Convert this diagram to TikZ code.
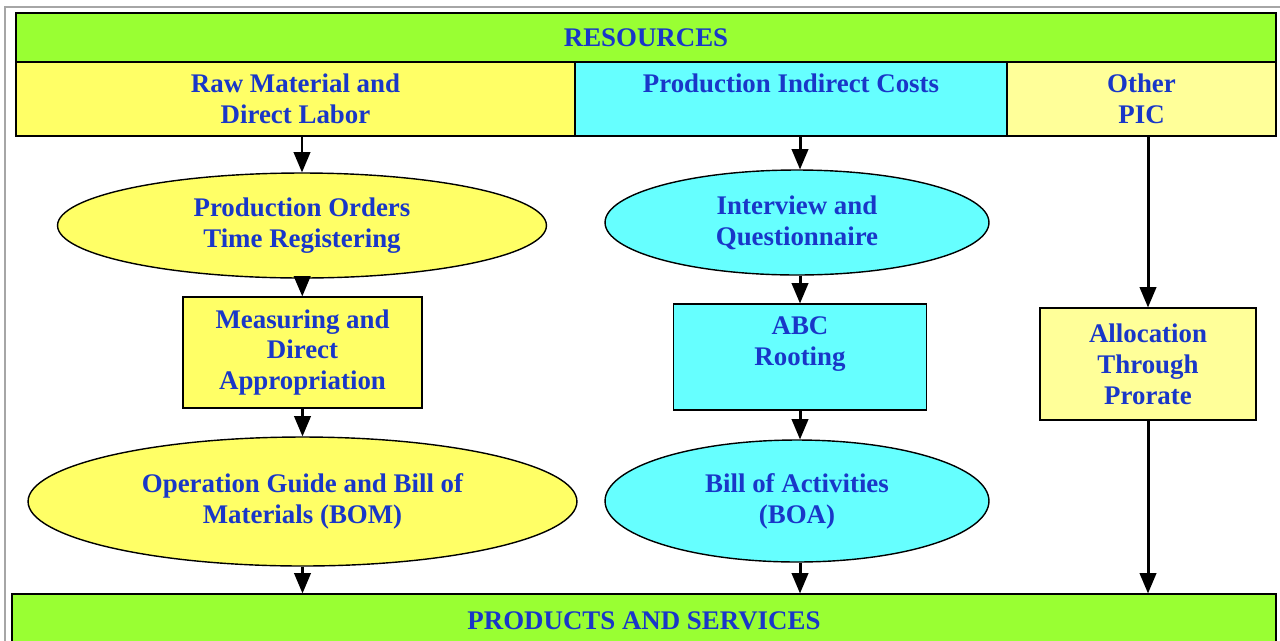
\documentclass[tikz,border=0pt]{standalone}
\usepackage{fontspec}
\setmainfont{Liberation Serif}
\usepackage{tikz}
\usetikzlibrary{arrows,shapes.geometric}

\definecolor{bargreen}{RGB}{153,255,51}
\definecolor{boxyellow}{RGB}{255,255,102}
\definecolor{paleyellow}{RGB}{255,255,153}
\definecolor{boxcyan}{RGB}{102,255,255}
\definecolor{textblue}{RGB}{25,55,200}

\begin{document}
\begin{tikzpicture}[x=0.02cm,y=-0.02cm,->,>=triangle 45,line width=1.7pt,
  every node/.style={font=\fontsize{15.3}{17.6}\selectfont\bfseries,text=textblue,align=center,inner sep=0pt},
  bar node/.style={rectangle,draw,line width=0.8pt,fill=bargreen,minimum height=0.98cm},
  head node/.style={rectangle,draw,line width=0.8pt,minimum height=1.48cm},
  box node/.style={rectangle,draw,line width=0.8pt},
  oval node/.style={ellipse,draw,line width=0.8pt}]

  \useasboundingbox (0,0) rectangle (1280,640);
  \draw[-,line width=1.2pt,gray!70] (5,7) rectangle (1290,660);

  \node[bar node,minimum width=25.2cm] (res) at (646,37.5) {RESOURCES};
  \node[head node,fill=boxyellow,minimum width=11.18cm] (raw) at (295.5,99) {Raw Material and\\Direct Labor};
  \node[head node,fill=boxcyan,minimum width=8.64cm] (pic) at (791,99) {Production Indirect Costs\\~};
  \node[head node,fill=paleyellow,minimum width=5.38cm] (other) at (1141.5,99) {Other\\PIC};

  \node[oval node,fill=boxyellow,minimum width=9.78cm,minimum height=2.1cm] (orders) at (302,225.5) {Production Orders\\Time Registering};
  \node[box node,fill=boxyellow,minimum width=4.78cm,minimum height=2.22cm] (meas) at (302.5,352.5) {Measuring and\\Direct\\Appropriation};
  \node[oval node,fill=boxyellow,minimum width=10.98cm,minimum height=2.58cm] (bom) at (302.5,501.5) {Operation Guide and Bill of\\Materials (BOM)};

  \node[oval node,fill=boxcyan,minimum width=7.68cm,minimum height=2.1cm] (inter) at (797,222.5) {Interview and\\Questionnaire};
  \node[box node,fill=boxcyan,minimum width=5.06cm,minimum height=2.12cm] (abc) at (800,357) {ABC\\Rooting\\~};
  \node[oval node,fill=boxcyan,minimum width=7.68cm,minimum height=2.44cm] (boa) at (797,501) {Bill of Activities\\(BOA)};

  \node[box node,fill=paleyellow,minimum width=4.32cm,minimum height=2.24cm] (alloc) at (1148,364) {Allocation\\Through\\Prorate};

  \node[bar node,minimum width=25.28cm,minimum height=1.08cm] (prod) at (644,621) {PRODUCTS AND SERVICES};

  \path
    (raw.south -| orders.north) edge (orders.north)
    (orders) edge (meas)
    (meas) edge (bom)
    (bom.south) edge (bom.south |- prod.north)
    (pic.south -| abc.north) edge (abc.north |- inter.north)
    (inter.south -| abc.north) edge (abc.north)
    (abc) edge (abc.south |- boa.north)
    (abc.south |- boa.south) edge (abc.south |- prod.north)
    (alloc.north |- other.south) edge (alloc.north)
    (alloc.south) edge (alloc.south |- prod.north);

\end{tikzpicture}
\end{document}
